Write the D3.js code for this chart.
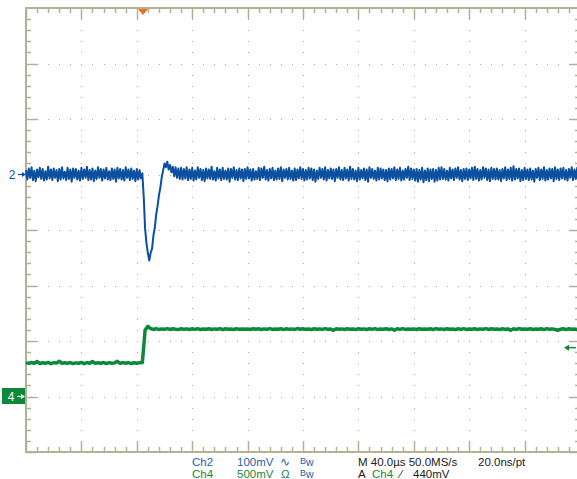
<!DOCTYPE html>
<html>
<head>
<meta charset="utf-8">
<script src="https://cdn.jsdelivr.net/npm/d3@7"></script>
<style>
  html, body { margin: 0; padding: 0; background: #fff; }
  svg { display: block; }
  text { font-family: "Liberation Sans", Arial, sans-serif; }
</style>
</head>
<body>
<div id="scope"></div>
<script>
// Scope settings
const timePerDiv = 40;      // µs
const ch2Step = 1;          // µs between Ch2 points
const ch4Step = 2;          // µs between Ch4 points
const triggerTime = 84.5;   // µs from left edge of screen
const ch2PerDiv = 100;      // mV
const ch4PerDiv = 500;      // mV
const ch2Offset = 1.0;      // divisions above centre
const ch4Offset = -3.0;     // divisions below centre
const ch4TrigLevel = 440;   // mV

// Ch2 (mV), one value every 1 µs
const ch2Values = [
  8, -9, 11, -6, 13, -10, 7, -12, 9, -5, 12, -8, 10, -11, 6, -9, 14, -7, 9, -10,
  11, -6, 8, -12, 10, -9, 13, -7, 5, -10, 12, -8, 9, -13, 11, -6, 10, -9, 7, -11,
  12, -8, 9, -6, 14, -10, 8, -9, 11, -12, 7, -8, 13, -6, 10, -11, 9, -7, 12, -9,
  6, -10, 11, -8, 9, -13, 12, -7, 10, -9, 8, -11, 13, -6, 9, -10, 11, -8, 7, -12,
  10, -9, 8, -7, 2, -40, -98, -124, -142, -155, -141, -134, -110, -96, -72, -57, -37, -24, -5, 7,
  20, 13, 23, 9, 17, 4, 14, -3, 13, -6, 11, -8, 12, -9, 10, -7, 13, -10, 9, -8,
  12, -11, 7, -9, 13, -6, 10, -10, 8, -12, 11, -7, 9, -8, 14, -9, 6, -11, 12, -7,
  9, -10, 12, -8, 7, -9, 11, -13, 10, -6, 13, -9, 8, -10, 11, -7, 9, -12, 10, -8,
  13, -7, 9, -11, 10, -9, 6, -8, 12, -10, 11, -6, 14, -9, 8, -11, 10, -7, 12, -10,
  7, -9, 11, -8, 13, -12, 9, -6, 10, -9, 12, -8, 7, -11, 11, -10, 9, -7, 13, -8,
  10, -11, 8, -9, 12, -7, 11, -10, 9, -13, 7, -8, 12, -6, 10, -9, 13, -11, 8, -7,
  11, -8, 9, -12, 10, -6, 13, -9, 8, -10, 12, -7, 9, -11, 14, -8, 10, -9, 7, -12,
  12, -9, 8, -7, 11, -10, 9, -13, 13, -6, 10, -8, 7, -11, 12, -9, 11, -7, 9, -10,
  8, -12, 11, -9, 10, -7, 13, -10, 9, -8, 12, -11, 7, -9, 10, -6, 14, -10, 11, -8,
  9, -11, 10, -13, 8, -9, 12, -14, 7, -10, 11, -12, 9, -8, 10, -13, 8, -11, 12, -9,
  13, -8, 10, -9, 7, -11, 12, -7, 9, -10, 11, -6, 13, -9, 8, -12, 10, -8, 11, -10,
  9, -7, 12, -10, 14, -8, 10, -11, 8, -9, 13, -6, 11, -10, 9, -12, 12, -8, 10, -9,
  11, -9, 8, -12, 10, -7, 13, -10, 9, -8, 12, -11, 15, -9, 10, -7, 11, -12, 8, -10,
  12, -8, 9, -10, 11, -9, 7, -13, 10, -6, 12, -10, 9, -8, 13, -11, 8, -9, 11, -7,
  10, -12, 13, -8, 9, -10, 11, -7, 12, -9, 8, -11, 10, -6, 13, -10, 9, -8, 12, -9
];

// Ch4 (mV), one value every 2 µs
const ch4Values = [
  305, 298, 306, 300, 316, 297, 304, 299, 307, 296, 305, 301, 318, 298, 304, 299, 306, 297, 303, 300,
  307, 296, 305, 299, 315, 298, 304, 300, 306, 297, 305, 299, 303, 317, 298, 305, 300, 306, 297, 304,
  299, 305, 306, 598, 632, 612, 604, 611, 603, 609, 605, 612, 604, 610, 606, 603, 611, 605, 609, 604,
  610, 605, 612, 603, 608, 606, 611, 604, 609, 605, 612, 603, 610, 606, 608, 604, 611, 605, 609, 606,
  608, 604, 611, 606, 610, 603, 609, 605, 612, 604, 608, 606, 611, 603, 610, 605, 609, 604, 612, 606,
  610, 605, 608, 603, 611, 606, 609, 604, 612, 605, 608, 596, 610, 606, 609, 604, 611, 605, 608, 603,
  611, 606, 609, 604, 610, 605, 612, 603, 608, 606, 611, 604, 609, 597, 610, 605, 612, 604, 608, 606,
  609, 604, 611, 605, 608, 606, 610, 603, 612, 605, 609, 604, 611, 606, 608, 603, 610, 605, 612, 604,
  608, 606, 611, 603, 609, 605, 612, 604, 610, 606, 608, 603, 611, 605, 609, 596, 610, 604, 612, 606,
  609, 605, 611, 604, 608, 606, 610, 603, 612, 605, 609, 604, 597, 606, 610, 603, 611, 605, 608, 604
];

// Readout lines under the screen
const readoutRow1 = [
  { x: 192, text: "Ch2", color: "#1b5fae" },
  { x: 237, text: "100mV", color: "#1b5fae" },
  { x: 280, text: "∿", color: "#1b5fae" },
  { x: 300, text: "Bw", color: "#1b5fae", small: true },
  { x: 358, text: "M 40.0µs 50.0MS/s", color: "#222" },
  { x: 478, text: "20.0ns/pt", color: "#222" }
];
const readoutRow2 = [
  { x: 192, text: "Ch4", color: "#138a3c" },
  { x: 237, text: "500mV", color: "#138a3c" },
  { x: 281, text: "Ω", color: "#138a3c" },
  { x: 300, text: "Bw", color: "#1b5fae", small: true },
  { x: 358, text: "A", color: "#222" },
  { x: 372, text: "Ch4", color: "#138a3c" },
  { x: 400, text: "⁄", color: "#222" },
  { x: 413, text: "440mV", color: "#222" }
];

const width = 577;
const height = 479;
const frameColor = "#b4b093";
const dotColor = "#aaa89a";
const blue = "#0b4f9f";
const green = "#0c8a3a";

const svg = d3.select("#scope")
  .append("svg")
  .attr("width", width)
  .attr("height", height);

// screen is 10 x 8 divisions
const xDiv = d3.scaleLinear().domain([0, 10]).range([26, 580]);
const yDiv = d3.scaleLinear().domain([-4, 4]).range([452, 8]);
const xTime = d3.scaleLinear().domain([0, 10 * timePerDiv]).range([26, 580]);

// dotted graticule
const grid = svg.append("g").attr("class", "grid");
const minorSteps = d3.range(0, 50).map((k) => k / 5);
const minorStepsY = d3.range(0, 40).map((k) => -4 + k / 5);
d3.range(1, 10).forEach((i) => {
  grid.selectAll(null)
    .data(minorStepsY)
    .enter()
    .append("rect")
    .attr("x", Math.round(xDiv(i)))
    .attr("y", (d) => Math.round(yDiv(d)))
    .attr("width", 1)
    .attr("height", 1)
    .attr("fill", dotColor);
});
d3.range(-3, 4).forEach((j) => {
  grid.selectAll(null)
    .data(minorSteps)
    .enter()
    .append("rect")
    .attr("x", (d) => Math.round(xDiv(d)))
    .attr("y", Math.round(yDiv(j)))
    .attr("width", 1)
    .attr("height", 1)
    .attr("fill", dotColor);
});

// frame and its ticks
const frame = svg.append("g").attr("class", "frame");
frame.append("rect")
  .attr("x", xDiv(0))
  .attr("y", yDiv(4))
  .attr("width", xDiv(10) - xDiv(0))
  .attr("height", yDiv(-4) - yDiv(4))
  .attr("fill", "none")
  .attr("stroke", frameColor)
  .attr("stroke-width", 2);

const tickLen = (major) => (major ? 11 : 5);
minorSteps.forEach((d, k) => {
  const major = k % 5 === 0;
  const x = Math.round(xDiv(d)) + 0.5;
  frame.append("line")
    .attr("x1", x).attr("x2", x)
    .attr("y1", yDiv(4)).attr("y2", yDiv(4) + tickLen(major))
    .attr("stroke", frameColor).attr("stroke-width", 1.5);
  frame.append("line")
    .attr("x1", x).attr("x2", x)
    .attr("y1", yDiv(-4)).attr("y2", yDiv(-4) - tickLen(major))
    .attr("stroke", frameColor).attr("stroke-width", 1.5);
});
minorStepsY.forEach((d, k) => {
  const major = k % 5 === 0;
  const y = Math.round(yDiv(d)) + 0.5;
  frame.append("line")
    .attr("x1", xDiv(0)).attr("x2", xDiv(0) + tickLen(major))
    .attr("y1", y).attr("y2", y)
    .attr("stroke", frameColor).attr("stroke-width", 1.5);
  frame.append("line")
    .attr("x1", xDiv(10)).attr("x2", xDiv(10) - tickLen(major))
    .attr("y1", y).attr("y2", y)
    .attr("stroke", frameColor).attr("stroke-width", 1.5);
});

// traces
const ch2Line = d3.line()
  .x((d, i) => xTime(i * ch2Step))
  .y((d) => yDiv(ch2Offset + d / ch2PerDiv));
const ch4Line = d3.line()
  .x((d, i) => xTime(i * ch4Step))
  .y((d) => yDiv(ch4Offset + d / ch4PerDiv));

svg.append("path")
  .datum(ch4Values)
  .attr("d", ch4Line)
  .attr("fill", "none")
  .attr("stroke", green)
  .attr("stroke-width", 3.5)
  .attr("stroke-linejoin", "round");

svg.append("path")
  .datum(ch2Values)
  .attr("d", ch2Line)
  .attr("fill", "none")
  .attr("stroke", blue)
  .attr("stroke-width", 2)
  .attr("stroke-linejoin", "round");

// trigger position marker
const tx = xTime(triggerTime);
svg.append("path")
  .attr("d", `M${tx - 5},${yDiv(4) + 1}L${tx + 5},${yDiv(4) + 1}L${tx},${yDiv(4) + 7}Z`)
  .attr("fill", "#f26b2a");

// trigger level arrow on the right
const ty = yDiv(ch4Offset + ch4TrigLevel / ch4PerDiv);
svg.append("line")
  .attr("x1", 566).attr("x2", 576)
  .attr("y1", ty).attr("y2", ty)
  .attr("stroke", green).attr("stroke-width", 1.5);
svg.append("path")
  .attr("d", `M564,${ty}L569,${ty - 3}L569,${ty + 3}Z`)
  .attr("fill", green);

// channel ground markers
const y2 = yDiv(ch2Offset);
svg.append("text")
  .attr("x", 12).attr("y", y2 + 4.5)
  .attr("text-anchor", "middle")
  .attr("font-size", 12)
  .attr("fill", blue)
  .text("2");
svg.append("line")
  .attr("x1", 18).attr("x2", 24)
  .attr("y1", y2).attr("y2", y2)
  .attr("stroke", blue).attr("stroke-width", 1.2);
svg.append("path")
  .attr("d", `M26,${y2}L22,${y2 - 2.5}L22,${y2 + 2.5}Z`)
  .attr("fill", blue);

const y4 = yDiv(ch4Offset);
svg.append("rect")
  .attr("x", 2).attr("y", y4 - 8.5)
  .attr("width", 23).attr("height", 16)
  .attr("fill", green);
svg.append("text")
  .attr("x", 11).attr("y", y4 + 4.5)
  .attr("text-anchor", "middle")
  .attr("font-size", 12)
  .attr("fill", "#fff")
  .text("4");
svg.append("line")
  .attr("x1", 17).attr("x2", 22)
  .attr("y1", y4).attr("y2", y4)
  .attr("stroke", "#fff").attr("stroke-width", 1.2);
svg.append("path")
  .attr("d", `M25,${y4}L21,${y4 - 2.5}L21,${y4 + 2.5}Z`)
  .attr("fill", "#fff");

// readout text
function drawReadout(row, baseline) {
  row.forEach((d) => {
    const t = svg.append("text")
      .attr("x", d.x)
      .attr("y", baseline)
      .attr("font-size", 11.5)
      .attr("fill", d.color);
    if (d.small) {
      t.append("tspan").attr("font-size", 9).attr("dy", -2).text(d.text[0]);
      t.append("tspan").attr("font-size", 10.5).attr("dy", 2).text(d.text.slice(1));
    } else {
      t.text(d.text);
    }
  });
}
drawReadout(readoutRow1, 465.5);
drawReadout(readoutRow2, 477.5);
</script>
</body>
</html>
